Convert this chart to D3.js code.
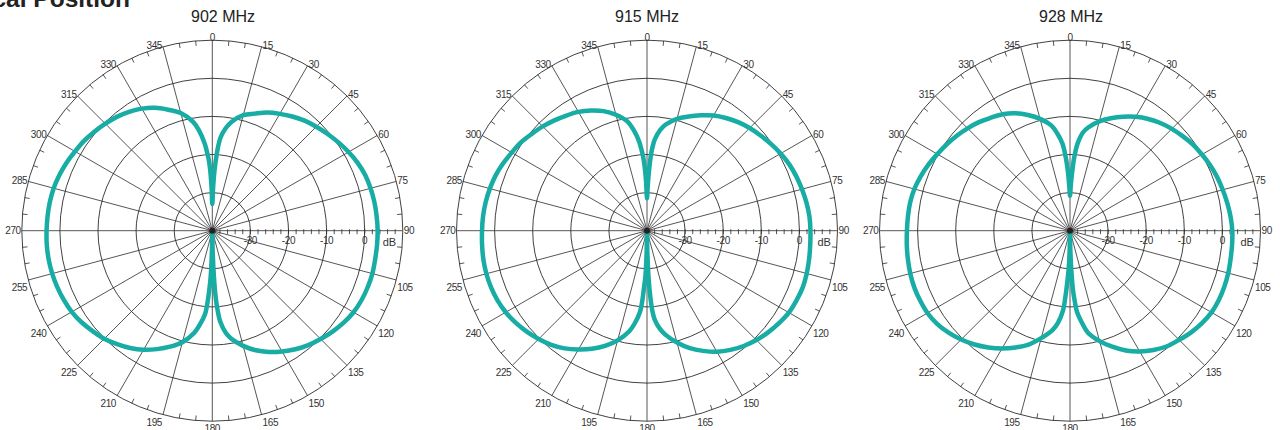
<!DOCTYPE html>
<html>
<head>
<meta charset="utf-8">
<script src="https://cdn.jsdelivr.net/npm/d3@7"></script>
<style>
  html, body { margin: 0; padding: 0; background: #fff; }
  svg { display: block; font-family: "Liberation Sans", Arial, sans-serif; }
</style>
</head>
<body>
<svg id="chart" width="1280" height="430"></svg>
<script>
var pageTitle = "Vertical Position";
var freqs = ["902 MHz", "915 MHz", "928 MHz"];

// measured azimuth angles (denser near the nulls)
var angles = [0, 1, 2, 3, 4, 5, 7.5, 10, 15, 20, 25, 30, 35, 40, 45, 50, 55, 60, 65, 70, 75, 80, 85, 90,
  95, 100, 105, 110, 115, 120, 125, 130, 135, 140, 145, 150, 155, 160, 165, 170, 172.5, 175, 176, 177, 178, 179,
  180, 181, 182, 183, 184, 185, 187.5, 190, 195, 200, 205, 210, 215, 220, 225, 230, 235, 240, 245, 250, 255, 260,
  265, 270, 275, 280, 285, 290, 295, 300, 305, 310, 315, 320, 325, 330, 335, 340, 345, 350, 352.5, 355, 356, 357, 358, 359];

var db902 = [-33, -29, -24.5, -21, -17.8, -15.5, -12.8, -11, -8.6, -7.3, -5.8, -4.6, -3.4, -2.3, -1.4, -0.5, 0.4, 1.3, 2.1, 2.7, 3.0, 3.2, 3.3, 3.4,
  3.4, 3.4, 3.5, 3.4, 3.2, 2.8, 2.1, 1.2, 0.2, -0.8, -2.0, -3.4, -4.9, -6.6, -8.7, -11.2, -13, -16, -18.5, -22, -28, -35,
  -40, -35, -28, -24, -20.5, -18, -15.2, -12.8, -9.7, -7.6, -5.7, -3.9, -2.4, -1.1, 0.1, 1.0, 1.9, 2.6, 3.0, 3.3, 3.5, 3.6,
  3.6, 3.5, 3.4, 3.3, 3.1, 2.7, 2.2, 1.6, 1.1, 0.4, -0.3, -1.0, -1.9, -3.0, -4.4, -6.2, -8.0, -11.0, -13.5, -17, -19, -21, -24, -28.5];

var db915 = [-31.5, -28, -24, -20, -17.5, -15.8, -13.3, -11.7, -9.6, -8.1, -6.6, -5.1, -3.9, -2.8, -1.9, -1.1, -0.3, 0.5, 1.2, 1.7, 2.1, 2.5, 2.8, 2.9,
  3.0, 3.2, 3.4, 3.5, 3.3, 3.0, 2.3, 1.5, 0.6, -0.5, -1.8, -3.3, -5.2, -7.2, -9.6, -12.3, -14, -16.5, -18.5, -22, -27, -34,
  -40, -34, -28, -25, -21, -18.5, -15.5, -13.2, -10.2, -7.8, -5.8, -4.0, -2.3, -0.9, 0.2, 1.2, 2.1, 2.8, 3.3, 3.55, 3.65, 3.6,
  3.45, 3.3, 3.2, 3.0, 2.7, 2.3, 1.7, 1.0, 0.4, -0.5, -1.3, -2.2, -3.1, -4.0, -5.2, -6.6, -8.5, -11.0, -13.4, -16.6, -18.5, -20.5, -23.5, -27.5];

var db928 = [-30.8, -28, -25, -21.5, -19, -17, -14, -12.5, -10.3, -8.6, -7.0, -5.5, -4.2, -3.1, -2.2, -1.4, -0.6, 0.0, 0.6, 1.1, 1.5, 1.9, 2.3, 2.6,
  2.7, 2.8, 3.0, 3.1, 3.1, 2.9, 2.3, 1.5, 0.5, -0.4, -1.8, -3.4, -5.3, -7.6, -10.0, -12.8, -15.5, -18.5, -21, -24, -29, -35,
  -40, -35, -30, -26.5, -22.5, -19, -15.5, -13.5, -10.8, -8.2, -6.2, -4.3, -2.6, -1.0, 0.4, 1.6, 2.6, 3.2, 3.4, 3.5, 3.4, 3.2,
  3.0, 2.8, 2.7, 2.6, 2.3, 1.7, 1.0, 0.2, -0.5, -1.2, -2.0, -2.8, -3.8, -4.7, -6.0, -7.7, -9.6, -12.0, -14.2, -17, -19, -21.5, -24.5, -28];

var ringValues = [-30, -20, -10, 0];
var angleLabels = [0, 15, 30, 45, 60, 75, 90, 105, 120, 135, 150, 165, 180, 195, 210, 225, 240, 255, 270, 285, 300, 315, 330, 345];

var series = [db902, db915, db928];

var R = 190.5, cy = 230.7;
var centers = [212.3, 647, 1070];
var titleX = [223, 647, 1071];
var gridColor = "#2b2b2b", textColor = "#333";

var svg = d3.select("#chart");

var r = d3.scaleLinear().domain([-40, 10]).range([0, R]);

function pt(a, rad) {
  var t = a * Math.PI / 180;
  return [rad * Math.sin(t), -rad * Math.cos(t)];
}

// cut-off page heading
svg.append("text")
    .attr("x", 130)
    .attr("y", 6.5)
    .attr("text-anchor", "end")
    .attr("font-size", "24.5px")
    .attr("font-weight", "bold")
    .attr("fill", "#222")
    .text(pageTitle);

var line = d3.lineRadial()
    .angle(function(d) { return d.a * Math.PI / 180; })
    .radius(function(d) { return r(Math.max(-40, d.v)); })
    .curve(d3.curveCatmullRomClosed.alpha(0.5));

freqs.forEach(function(f, i) {
  svg.append("text")
      .attr("x", titleX[i])
      .attr("y", 21.5)
      .attr("text-anchor", "middle")
      .attr("font-size", "16px")
      .attr("fill", "#222")
      .text(f);

  var g = svg.append("g")
      .attr("transform", "translate(" + centers[i] + "," + cy + ")");

  // dB rings + outer edge
  g.selectAll(".ring")
      .data(ringValues.concat([10]))
    .enter().append("circle")
      .attr("class", "ring")
      .attr("r", function(d) { return r(d); })
      .attr("fill", "none")
      .attr("stroke", gridColor)
      .attr("stroke-width", 0.9);

  // spokes every 15 deg
  g.selectAll(".spoke")
      .data(angleLabels)
    .enter().append("line")
      .attr("class", "spoke")
      .attr("x1", 0).attr("y1", 0)
      .attr("x2", function(d) { return pt(d, R)[0]; })
      .attr("y2", function(d) { return pt(d, R)[1]; })
      .attr("stroke", gridColor)
      .attr("stroke-width", 0.8);

  // 5 deg ticks on the rim
  var rimTicks = d3.range(0, 360, 5).filter(function(a) { return a % 15 != 0; });
  g.selectAll(".rimtick")
      .data(rimTicks)
    .enter().append("line")
      .attr("class", "rimtick")
      .attr("x1", function(d) { return pt(d, R)[0]; })
      .attr("y1", function(d) { return pt(d, R)[1]; })
      .attr("x2", function(d) { return pt(d, R - 5)[0]; })
      .attr("y2", function(d) { return pt(d, R - 5)[1]; })
      .attr("stroke", gridColor)
      .attr("stroke-width", 0.8);

  // radial axis ticks every 2 dB
  g.selectAll(".dbtick")
      .data(d3.range(-38, 10, 2))
    .enter().append("line")
      .attr("class", "dbtick")
      .attr("x1", function(d) { return r(d); })
      .attr("x2", function(d) { return r(d); })
      .attr("y1", -1.5)
      .attr("y2", 3.5)
      .attr("stroke", gridColor)
      .attr("stroke-width", 0.8);

  g.selectAll(".dblabel")
      .data(ringValues)
    .enter().append("text")
      .attr("class", "dblabel")
      .attr("x", function(d) { return r(d); })
      .attr("y", 13.5)
      .attr("text-anchor", "middle")
      .attr("font-size", "10px")
      .attr("letter-spacing", "-0.4px")
      .attr("fill", textColor)
      .text(function(d) { return d; });

  g.append("text")
      .attr("x", r(6.5))
      .attr("y", 15)
      .attr("text-anchor", "middle")
      .attr("font-size", "11px")
      .attr("fill", textColor)
      .text("dB");

  // angle labels round the rim
  g.selectAll(".alabel")
      .data(angleLabels)
    .enter().append("text")
      .attr("class", "alabel")
      .attr("font-size", "10px")
      .attr("letter-spacing", "-0.4px")
      .attr("fill", textColor)
      .attr("text-anchor", function(d) {
        if (d == 0 || d == 180) return "middle";
        return d < 180 ? "start" : "end";
      })
      .attr("x", function(d) {
        var p = pt(d, R);
        if (d == 0 || d == 180) return p[0];
        return d < 180 ? p[0] + 1 : p[0] - 1;
      })
      .attr("y", function(d) {
        var p = pt(d, R);
        if (d == 0) return p[1] + 0.5;
        if (d == 90 || d == 270) return p[1] + 3.5;
        if (d > 90 && d < 270) return p[1] + 11;
        return p[1] + 2.5;
      })
      .text(function(d) { return d; });

  // pattern curve
  var pts = angles.map(function(a, k) { return {a: a, v: series[i][k]}; });
  g.append("path")
      .datum(pts)
      .attr("d", line)
      .attr("fill", "none")
      .attr("stroke", "#17aca4")
      .attr("stroke-width", 4.5)
      .attr("stroke-linejoin", "round");

  g.append("circle")
      .attr("r", 3)
      .attr("fill", "#222");
});
</script>
</body>
</html>
